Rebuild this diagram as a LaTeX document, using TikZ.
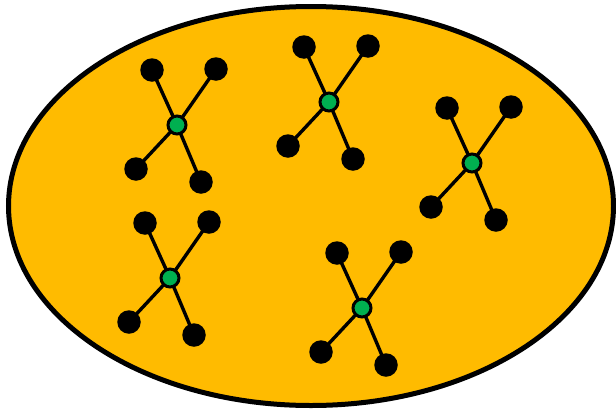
\documentclass[tikz,border=0pt]{standalone}
\definecolor{bg}{HTML}{FFBB00}
\definecolor{hub}{HTML}{00B050}
\tikzset{
  leaf/.style={circle,fill=black,inner sep=0pt,minimum size=23.5pt},
  hubnode/.style={circle,fill=hub,draw=black,line width=3pt,inner sep=0pt,minimum size=18pt},
  edge/.style={line width=3.4pt}
}
\begin{document}
\begin{tikzpicture}[x=1pt,y=-1pt]
\useasboundingbox (0,0) rectangle (616,410);
\draw[fill=bg,line width=5pt] (311,206) ellipse [x radius=302.5,y radius=199.5];
\foreach \n/\cx/\cy in {a/177/125,b/329/102,c/472/163,d/170/278,e/362/308}{
  \node[leaf] (\n1) at (\cx-25,\cy-55) {};
  \node[leaf] (\n2) at (\cx+39,\cy-56) {};
  \node[leaf] (\n3) at (\cx-41,\cy+44) {};
  \node[leaf] (\n4) at (\cx+24,\cy+57) {};
  \coordinate (\n0) at (\cx,\cy);
  \draw[edge] (\n0) -- (\n1.center) (\n0) -- (\n2.center) (\n0) -- (\n3.center) (\n0) -- (\n4.center);
  \node[hubnode] (\n h) at (\cx,\cy) {};
}
\end{tikzpicture}
\end{document}
